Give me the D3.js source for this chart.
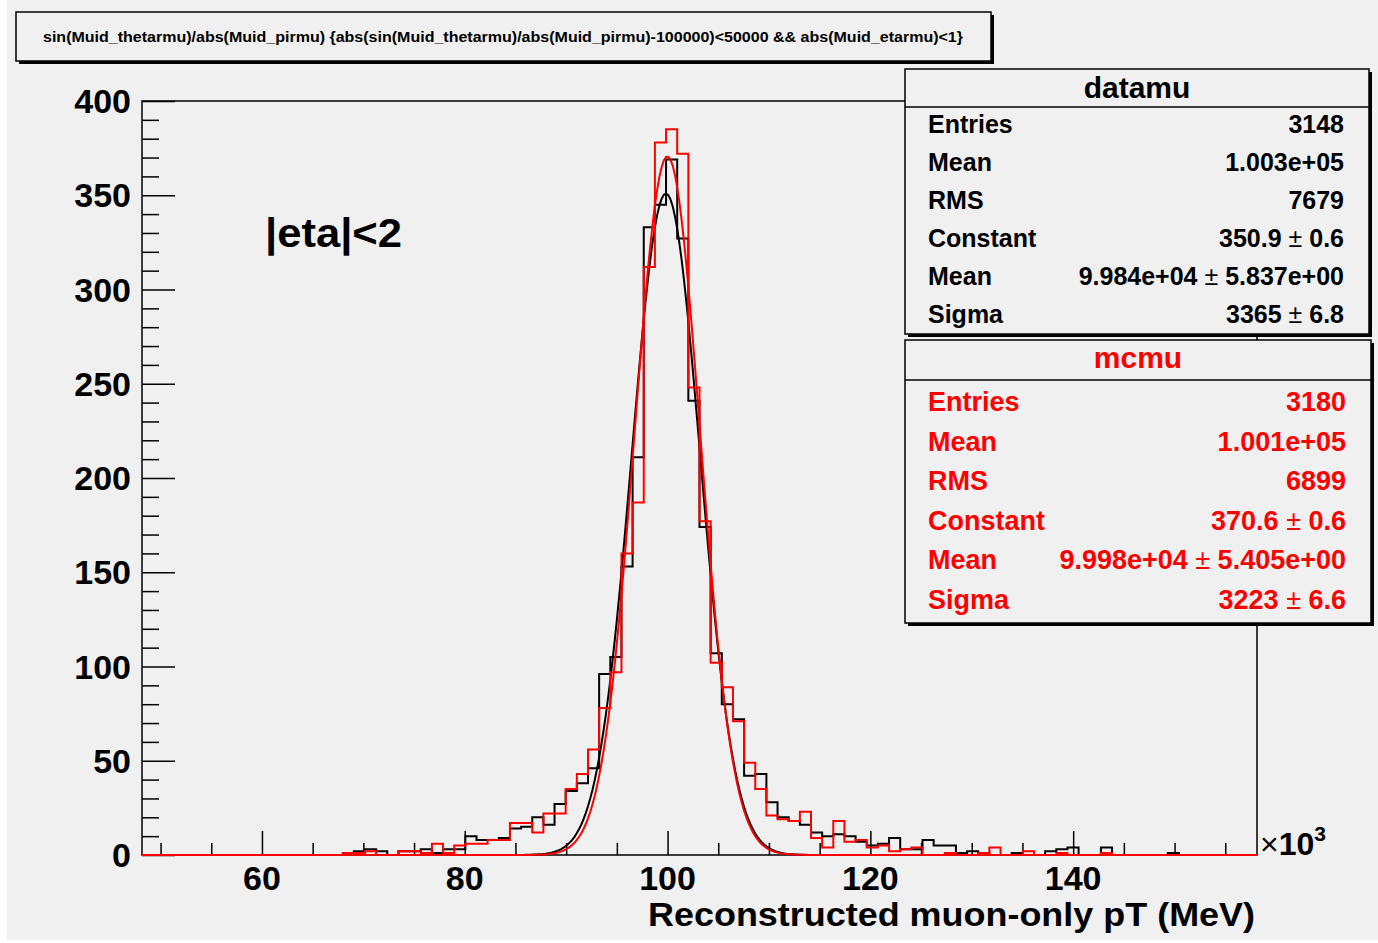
<!DOCTYPE html>
<html>
<head>
<meta charset="utf-8">
<script src="https://cdn.jsdelivr.net/npm/d3@7"></script>
<style>
  body { margin: 0; background: #ffffff; }
  svg { display: block; font-family: "Liberation Sans", Arial, sans-serif; font-weight: bold; }
</style>
</head>
<body>
<svg id="chart" width="1378" height="943"></svg>
<script>
// histogram binning (MeV), 100 bins
var xMin = 48170, xMax = 158130, nBins = 100;

// bin contents
var dataCounts = [
  0,0,0,0,0,0,0,0,0,0, 0,0,0,0,0,0,0,0,0,2,
  3,2,0,2,2,3,1,3,3,10, 8,8,9,14,15,20,16,27,34,38,
  46,96,105,153,211,333,345,369,327,241, 174,107,80,72,42,43,28,20,18,16,
  12,10,11,10,7,5,6,9,3,3, 8,5,5,1,2,1,0,0,1,0,
  0,2,3,4,0,0,4,0,0,0, 0,0,1,0,0,0,0,0,0,0
];
var mcCounts = [
  0,0,0,0,0,0,0,0,0,0, 0,0,0,0,0,0,0,0,1,1,
  2,0,0,2,2,1,6,1,5,6, 6,8,8,17,17,12,22,22,35,43,
  56,78,97,160,187,312,378,385,372,248, 177,102,89,71,49,35,21,19,18,23,
  9,4,18,7,8,4,5,2,3,4, 0,0,1,0,0,1,4,0,0,2,
  0,0,1,0,0,0,1,0,0,0, 0,0,0,0,0,0,0,0,0,0
];

// gaussian fit parameters from the stat boxes
var fitNames = ['datamu', 'mcmu'];
var fitConstant = [350.9, 370.6];
var fitMean = [99840, 99980];
var fitSigma = [3365, 3223];
var seriesColors = ['#000000', '#ff0000'];

var statLabels = ['Entries', 'Mean', 'RMS', 'Constant', 'Mean', 'Sigma'];
var statValues = [
  ['3148', '1.003e+05', '7679', ['350.9', '0.6'], ['9.984e+04', '5.837e+00'], ['3365', '6.8']],
  ['3180', '1.001e+05', '6899', ['370.6', '0.6'], ['9.998e+04', '5.405e+00'], ['3223', '6.6']]
];

var xTickLabels = [60000, 80000, 100000, 120000, 140000];
var yTickLabels = [0, 50, 100, 150, 200, 250, 300, 350, 400];

var titleText = 'sin(Muid_thetarmu)/abs(Muid_pirmu) {abs(sin(Muid_thetarmu)/abs(Muid_pirmu)-100000)<50000 && abs(Muid_etarmu)<1}';

var svg = d3.select('#chart');
var padL = 142, padR = 1257, padT = 101, padB = 855;

// canvas background
svg.append('rect').attr('x', 7).attr('y', 0).attr('width', 1371).attr('height', 940).attr('fill', '#f0f0f0');

var x = d3.scaleLinear().domain([xMin, xMax]).range([padL, padR]);
var y = d3.scaleLinear().domain([0, 400]).range([padB, padT]);
var binW = (xMax - xMin) / nBins;

// frame
svg.append('rect').attr('x', padL).attr('y', padT).attr('width', padR - padL).attr('height', padB - padT)
  .attr('fill', 'none').attr('stroke', '#000').attr('stroke-width', 1.5);

// y axis with ROOT style inward ticks
var yAxis = d3.axisRight(y).tickValues(yTickLabels).tickSize(33).tickFormat('');
svg.append('g').attr('class', 'ya').attr('transform', 'translate(' + padL + ',0)').call(yAxis);
var yMinor = d3.axisRight(y).tickValues(d3.range(0, 401, 10).filter(function(v) { return v % 50 != 0; })).tickSize(17).tickFormat('');
svg.append('g').attr('class', 'ya').attr('transform', 'translate(' + padL + ',0)').call(yMinor);

// x axis
var xAxis = d3.axisTop(x).tickValues(xTickLabels).tickSize(24).tickFormat('');
svg.append('g').attr('class', 'xa').attr('transform', 'translate(0,' + padB + ')').call(xAxis);
var xMinor = d3.axisTop(x).tickValues(d3.range(50000, 158001, 5000).filter(function(v) { return xTickLabels.indexOf(v) < 0; })).tickSize(12).tickFormat('');
svg.append('g').attr('class', 'xa').attr('transform', 'translate(0,' + padB + ')').call(xMinor);
svg.selectAll('.domain').remove();
svg.selectAll('.tick line').attr('stroke', '#000').attr('stroke-width', 1.5);

svg.append('g').selectAll('text').data(yTickLabels).enter().append('text')
  .attr('x', 131).attr('y', function(d) { return y(d); }).attr('dy', '0.36em')
  .attr('text-anchor', 'end').attr('font-size', 34).text(function(d) { return d; });

svg.append('g').selectAll('text').data(xTickLabels).enter().append('text')
  .attr('x', function(d) { return x(d); }).attr('y', 890)
  .attr('text-anchor', 'middle').attr('font-size', 34).text(function(d) { return d / 1000; });

// x10^3
var mult = svg.append('text').attr('x', 1260).attr('y', 855).attr('font-size', 32);
mult.append('tspan').attr('font-weight', 'normal').text('\u00d7');
mult.append('tspan').text('10');
mult.append('tspan').attr('font-size', 21).attr('dy', -14).text('3');

svg.append('text').attr('x', 648).attr('y', 926).attr('font-size', 33)
  .attr('textLength', 607).attr('lengthAdjust', 'spacingAndGlyphs')
  .text('Reconstructed muon-only pT (MeV)');

svg.append('text').attr('x', 265).attr('y', 247).attr('font-size', 41)
  .attr('textLength', 137).attr('lengthAdjust', 'spacingAndGlyphs').text('|eta|<2');

// histograms as step outlines
function stepPath(counts) {
  var pts = [[x(xMin), y(0)]];
  counts.forEach(function(c, i) {
    pts.push([x(xMin + i * binW), y(c)]);
    pts.push([x(xMin + (i + 1) * binW), y(c)]);
  });
  pts.push([x(xMax), y(0)]);
  return d3.line()(pts);
}

function fitPath(k) {
  var xs = d3.range(0, 501).map(function(i) { return xMin + i * (xMax - xMin) / 500; });
  return d3.line()
    .x(function(v) { return x(v); })
    .y(function(v) { var t = (v - fitMean[k]) / fitSigma[k]; return y(fitConstant[k] * Math.exp(-0.5 * t * t)); })(xs);
}

[dataCounts, mcCounts].forEach(function(counts, k) {
  svg.append('path').attr('d', stepPath(counts)).attr('fill', 'none')
    .attr('stroke', seriesColors[k]).attr('stroke-width', 2);
  svg.append('path').attr('d', fitPath(k)).attr('fill', 'none')
    .attr('stroke', seriesColors[k]).attr('stroke-width', 2);
});

// pave helper: shadow + box
function pave(x0, y0, w, h) {
  svg.append('rect').attr('x', x0 + 3).attr('y', y0 + 3).attr('width', w).attr('height', h).attr('fill', '#000');
  svg.append('rect').attr('x', x0).attr('y', y0).attr('width', w).attr('height', h)
    .attr('fill', '#f0f0f0').attr('stroke', '#000').attr('stroke-width', 1.5);
}

// title box
pave(16, 12, 975, 49);
svg.append('text').attr('x', 43).attr('y', 42).attr('font-size', 14)
  .attr('textLength', 920).attr('lengthAdjust', 'spacingAndGlyphs').text(titleText);

// stat boxes
var boxes = [
  { x: 905, y: 69, w: 464, h: 265, sep: 107, titleY: 98, rowY: 133, step: 38, fs: 25, vr: 1344 },
  { x: 905, y: 340, w: 466, h: 283, sep: 380, titleY: 368, rowY: 411, step: 39.6, fs: 27, vr: 1346 }
];
boxes.forEach(function(b, k) {
  pave(b.x, b.y, b.w, b.h);
  svg.append('line').attr('x1', b.x).attr('x2', b.x + b.w).attr('y1', b.sep).attr('y2', b.sep)
    .attr('stroke', '#000').attr('stroke-width', 1.5);
  svg.append('text').attr('x', b.x + b.w / 2).attr('y', b.titleY).attr('text-anchor', 'middle')
    .attr('font-size', 30).attr('fill', seriesColors[k]).text(fitNames[k]);
  statLabels.forEach(function(lab, i) {
    var yy = b.rowY + i * b.step;
    svg.append('text').attr('x', 928).attr('y', yy).attr('font-size', b.fs).attr('fill', seriesColors[k]).text(lab);
    var v = statValues[k][i];
    var t = svg.append('text').attr('x', b.vr).attr('y', yy).attr('text-anchor', 'end')
      .attr('font-size', b.fs).attr('fill', seriesColors[k]);
    if (Array.isArray(v)) {
      t.append('tspan').text(v[0]);
      t.append('tspan').attr('font-weight', 'normal').text(' \u00b1 ');
      t.append('tspan').text(v[1]);
    } else {
      t.text(v);
    }
  });
});
</script>
</body>
</html>
